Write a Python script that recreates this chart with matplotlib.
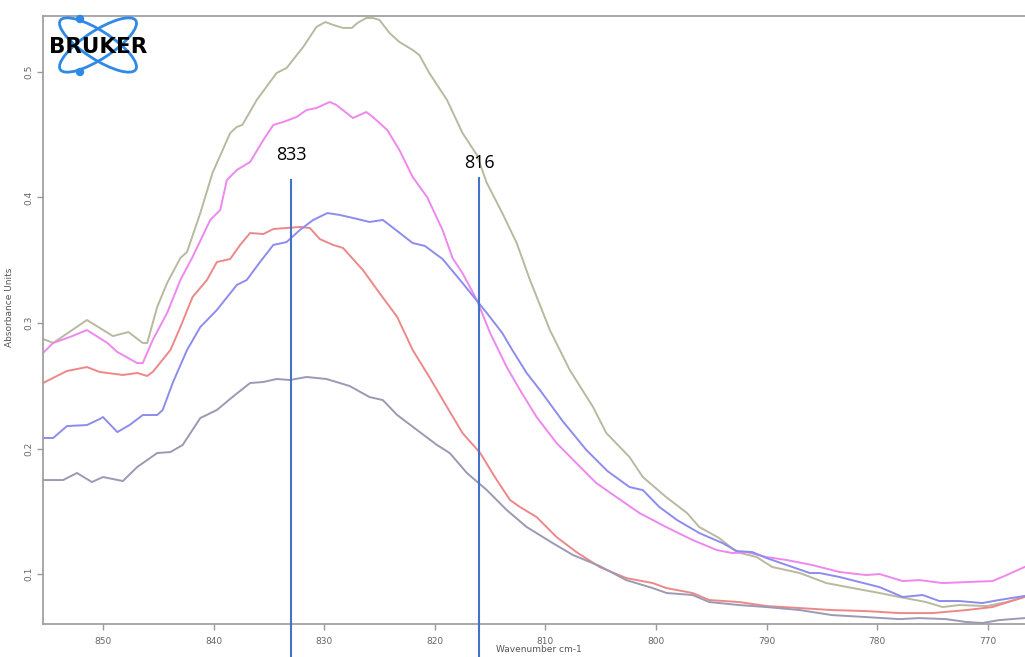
import matplotlib
matplotlib.use("Agg")
import matplotlib.pyplot as plt
from matplotlib.patches import Ellipse, Circle

# ---- spectra (wavenumber cm-1, absorbance) ----
wn_olive = [855.42, 854.5, 851.45, 849.1, 847.7, 846.4, 846.0, 845.1, 844.2, 843.0, 842.4, 841.2,
            840.1, 838.5, 837.9, 837.4, 836.1, 834.3, 833.4, 831.9, 830.7, 829.9, 829.2, 828.3,
            827.5, 827.0, 826.2, 825.6, 825.0, 824.1, 823.2, 822.0, 821.4, 820.5, 818.9, 817.5,
            816.2, 815.3, 813.9, 812.6, 811.4, 809.6, 807.8, 805.7, 804.5, 802.4, 801.2, 799.1,
            797.2, 796.1, 794.3, 792.7, 790.9, 789.5, 787.0, 784.6, 782.2, 779.8, 778.0, 775.6,
            774.1, 772.6, 770.1, 768.3, 766.7]
abs_olive = [0.2873, 0.2841, 0.3024, 0.2896, 0.2928, 0.2841, 0.2841, 0.3127, 0.3319, 0.3518, 0.3566, 0.3876,
             0.4195, 0.4514, 0.4562, 0.4578, 0.4777, 0.4992, 0.5032, 0.5199, 0.5359, 0.5398, 0.5375, 0.5351,
             0.5351, 0.5390, 0.5430, 0.5430, 0.5414, 0.5311, 0.5239, 0.5175, 0.5135, 0.4992, 0.4777, 0.4514,
             0.4339, 0.4116, 0.3876, 0.3637, 0.3343, 0.2944, 0.2625, 0.2331, 0.2124, 0.1932, 0.1773, 0.1614,
             0.1486, 0.1375, 0.1287, 0.1175, 0.1135, 0.1056, 0.1008, 0.0928, 0.0888, 0.0849, 0.0817, 0.0777,
             0.0737, 0.0753, 0.0745, 0.0777, 0.0817]

wn_violet = [855.42, 854.5, 853.0, 851.45, 849.6, 848.7, 846.9, 846.4, 845.5, 844.2, 843.0, 841.9,
             840.3, 839.4, 838.8, 837.9, 836.7, 835.5, 834.6, 833.7, 832.5, 831.6, 830.7, 829.5,
             828.9, 827.4, 826.2, 825.6, 824.3, 823.2, 822.0, 820.7, 819.3, 818.4, 817.5, 816.2,
             815.0, 813.5, 812.3, 810.8, 809.0, 807.2, 805.4, 803.6, 801.5, 799.1, 796.7, 794.5,
             793.1, 791.8, 790.0, 788.2, 785.9, 783.4, 781.0, 779.8, 777.7, 776.2, 774.1, 771.95,
             769.6, 768.3, 766.7]
abs_violet = [0.2761, 0.2841, 0.2888, 0.2944, 0.2841, 0.2769, 0.2681, 0.2681, 0.2865, 0.3080, 0.3343, 0.3526,
              0.3821, 0.3900, 0.4139, 0.4219, 0.4283, 0.4458, 0.4578, 0.4602, 0.4641, 0.4697, 0.4713, 0.4761,
              0.4737, 0.4633, 0.4681, 0.4641, 0.4538, 0.4378, 0.4163, 0.4004, 0.3741, 0.3518, 0.3398, 0.3183,
              0.2920, 0.2649, 0.2466, 0.2251, 0.2044, 0.1884, 0.1725, 0.1614, 0.1486, 0.1375, 0.1271, 0.1191,
              0.1167, 0.1175, 0.1135, 0.1112, 0.1072, 0.1016, 0.0992, 0.1000, 0.0944, 0.0952, 0.0928, 0.0936,
              0.0944, 0.0992, 0.1056]

wn_red = [855.42, 853.25, 851.45, 850.3, 848.2, 846.9, 846.0, 845.5, 843.9, 843.0, 841.9, 840.6,
          839.7, 838.5, 837.6, 836.7, 835.5, 834.6, 833.4, 832.2, 831.3, 830.4, 829.2, 828.3,
          826.5, 825.0, 823.4, 822.0, 820.5, 818.9, 817.5, 815.9, 814.4, 813.2, 812.3, 810.8,
          809.0, 807.2, 805.1, 802.7, 800.3, 799.05, 796.7, 795.2, 792.5, 790.0, 787.0, 784.1,
          781.0, 778.0, 775.0, 771.95, 769.6, 766.7]
abs_red = [0.2522, 0.2618, 0.2649, 0.2610, 0.2586, 0.2602, 0.2578, 0.2610, 0.2785, 0.2968, 0.3207, 0.3343,
           0.3486, 0.3510, 0.3622, 0.3717, 0.3709, 0.3749, 0.3757, 0.3765, 0.3757, 0.3669, 0.3622, 0.3598,
           0.3422, 0.3239, 0.3048, 0.2785, 0.2570, 0.2331, 0.2124, 0.1964, 0.1749, 0.1590, 0.1534, 0.1454,
           0.1295, 0.1175, 0.1056, 0.0968, 0.0928, 0.0888, 0.0849, 0.0793, 0.0777, 0.0745, 0.0729, 0.0713,
           0.0705, 0.0689, 0.0689, 0.0713, 0.0737, 0.0817]

wn_blue = [855.42, 854.5, 853.25, 851.45, 850.3, 850.0, 848.7, 847.6, 846.4, 845.1, 844.6, 843.7,
           842.4, 841.2, 839.7, 837.9, 837.0, 835.8, 834.6, 833.4, 832.2, 831.0, 829.7, 828.6,
           827.4, 825.9, 824.7, 823.4, 822.0, 820.9, 819.3, 817.5, 815.3, 813.9, 813.0, 811.7,
           810.5, 808.45, 806.3, 804.4, 802.4, 801.2, 799.7, 798.1, 796.1, 794.0, 792.7, 791.3,
           790.0, 788.2, 786.1, 785.2, 783.4, 781.6, 779.8, 777.7, 775.9, 774.4, 772.6, 770.5,
           769.0, 766.7]
abs_blue = [0.2084, 0.2084, 0.2179, 0.2187, 0.2235, 0.2251, 0.2131, 0.2187, 0.2267, 0.2267, 0.2307, 0.2522,
            0.2785, 0.2968, 0.3104, 0.3303, 0.3343, 0.3486, 0.3622, 0.3645, 0.3741, 0.3821, 0.3876, 0.3861,
            0.3837, 0.3805, 0.3821, 0.3733, 0.3637, 0.3614, 0.3510, 0.3319, 0.3080, 0.2920, 0.2785, 0.2602,
            0.2466, 0.2219, 0.1988, 0.1821, 0.1693, 0.1669, 0.1534, 0.1430, 0.1327, 0.1247, 0.1183, 0.1175,
            0.1127, 0.1072, 0.1008, 0.1008, 0.0976, 0.0936, 0.0896, 0.0817, 0.0833, 0.0785, 0.0785, 0.0769,
            0.0793, 0.0825]

wn_grey = [855.42, 853.6, 852.35, 851.0, 850.0, 848.2, 846.9, 845.1, 843.9, 842.8, 841.2, 839.7,
           838.3, 836.7, 835.5, 834.3, 833.1, 831.6, 829.8, 828.6, 827.7, 825.9, 824.7, 823.4,
           821.6, 819.8, 818.65, 817.1, 815.3, 813.5, 811.7, 809.35, 807.5, 805.1, 802.7, 800.3,
           799.05, 796.7, 795.2, 792.5, 790.0, 787.0, 784.1, 781.0, 778.0, 776.2, 773.8, 771.95,
           770.5, 769.0, 766.7]
abs_grey = [0.1749, 0.1749, 0.1805, 0.1733, 0.1773, 0.1741, 0.1853, 0.1964, 0.1972, 0.2028, 0.2243, 0.2307,
            0.2410, 0.2522, 0.2530, 0.2554, 0.2546, 0.2570, 0.2554, 0.2522, 0.2498, 0.2410, 0.2386, 0.2267,
            0.2147, 0.2028, 0.1964, 0.1805, 0.1669, 0.1510, 0.1375, 0.1247, 0.1151, 0.1064, 0.0952, 0.0888,
            0.0849, 0.0833, 0.0777, 0.0753, 0.0737, 0.0713, 0.0673, 0.0657, 0.0641, 0.0649, 0.0641, 0.0618,
            0.0610, 0.0633, 0.0649]

x_ticks = [850, 840, 830, 820, 810, 800, 790, 780, 770]
y_ticks = [0.1, 0.2, 0.3, 0.4, 0.5]
marker_bands = [833, 816]

W, H = 1025, 657
fig = plt.figure(figsize=(W / 100, H / 100), dpi=100)
ax = fig.add_axes([43 / W, (H - 624) / H, (W - 43) / W, 608 / H])

series = [
    (wn_olive, abs_olive, "#b9b9a0"),
    (wn_violet, abs_violet, "#ee88ee"),
    (wn_red, abs_red, "#ee8888"),
    (wn_blue, abs_blue, "#8c8cee"),
    (wn_grey, abs_grey, "#9a9ab4"),
]
for wn, ab, col in series:
    ax.plot(wn, ab, color=col, lw=1.4, solid_joinstyle="round")

ax.set_xlim(855.42, 766.65)
ax.set_ylim(0.0602, 0.5446)

axis_grey = "#9a9a9a"
for side in ("left", "bottom", "top"):
    ax.spines[side].set_color(axis_grey)
    ax.spines[side].set_linewidth(1.2)
ax.spines["right"].set_visible(False)

ax.set_xticks(x_ticks)
ax.set_xticklabels([str(t) for t in x_ticks])
ax.set_yticks(y_ticks)
ax.set_yticklabels([f"{t:.1f}" for t in y_ticks], rotation=90, va="center")
ax.tick_params(axis="both", colors=axis_grey, labelcolor="#666666", labelsize=6.5,
               length=4, width=1.0, direction="out")
ax.tick_params(axis="x", pad=5)
ax.tick_params(axis="y", pad=3)

ax.set_xlabel("Wavenumber cm-1", fontsize=6.5, color="#555555")
ax.xaxis.set_label_coords((539 - 43) / (W - 43), -(645 - 624) / 608)
ax.set_ylabel("Absorbance Units", fontsize=6.5, color="#555555")
ax.yaxis.set_label_coords(-(43 - 14) / (W - 43), (624 - 307) / 608)

# band markers with labels
band_color = "#4472c4"
line_top = {833: 0.414, 816: 0.4155}
label_y = {833: 0.4339, 816: 0.4275}
for band in marker_bands:
    ax.plot([band, band], [line_top[band], 0.0347], color=band_color, lw=1.5,
            clip_on=False, zorder=5)
    ax.text(band, label_y[band], str(band), ha="center", va="center",
            fontsize=13, family="Open Sans", color="black", zorder=6)

# logo
lg = fig.add_axes([0, 0, 1, 1], zorder=10)
lg.set_xlim(0, W)
lg.set_ylim(H, 0)
lg.axis("off")
logo_blue = "#2e8ae6"
for ang in (33, -33):
    lg.add_patch(Ellipse((98, 45), 90, 28, angle=ang, fill=False,
                         edgecolor=logo_blue, lw=2.0))
for cy in (19, 72):
    lg.add_patch(Circle((80, cy), 3.5, color=logo_blue))
lg.text(98, 47, "BRUKER", ha="center", va="center", fontsize=15.5,
        fontweight="heavy", family="DejaVu Sans", color="black")

fig.savefig("out.png", dpi=100)
